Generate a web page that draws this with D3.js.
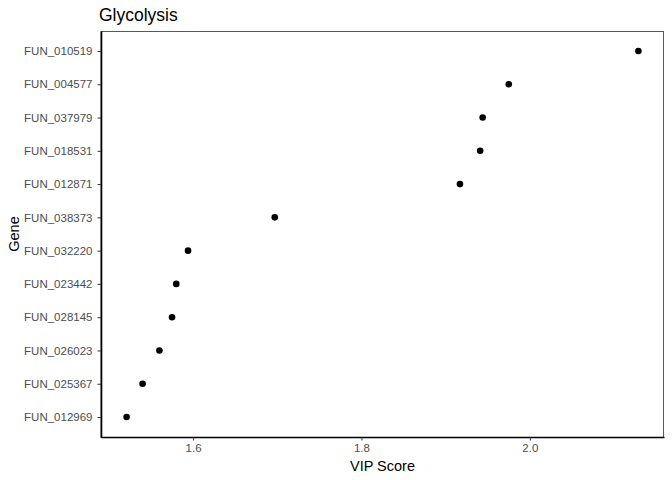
<!DOCTYPE html>
<html><head><meta charset="utf-8">
<script src="https://cdn.jsdelivr.net/npm/d3@7"></script>
<style>body{margin:0;background:#fff}</style>
</head><body>
<svg id="chart" width="672" height="480"></svg>
<script>
const genes = ["FUN_010519","FUN_004577","FUN_037979","FUN_018531","FUN_012871","FUN_038373","FUN_032220","FUN_023442","FUN_028145","FUN_026023","FUN_025367","FUN_012969"];
const vipScores = [2.129,1.975,1.944,1.941,1.917,1.697,1.594,1.580,1.575,1.560,1.540,1.521];
const xTicks = [1.6,1.8,2.0];

(function(){
const svg = d3.select("#chart");
const pL = 101, pR = 664, pT = 31, pB = 437;
const lo = d3.min(vipScores), hi = d3.max(vipScores), pad = (hi-lo)*0.05;
const x = d3.scaleLinear().domain([lo-pad, hi+pad]).range([pL, pR]);
const y = d3.scalePoint().domain(genes).range([pT, pB]).padding(0.6);

svg.append("rect").attr("x", pL).attr("y", pT+0.5).attr("width", pR-pL-0.5).attr("height", pB-pT)
  .attr("fill","none").attr("stroke","#595959").attr("stroke-width",1);

const xa = svg.append("g").attr("transform",`translate(0,${pB})`)
  .call(d3.axisBottom(x).tickValues(xTicks).tickFormat(d3.format(".1f")).tickSize(3.5).tickSizeOuter(0).tickPadding(3.5));
const ya = svg.append("g").attr("transform",`translate(${pL},0)`)
  .call(d3.axisLeft(y).tickSize(3.5).tickSizeOuter(0).tickPadding(5));
[xa,ya].forEach(a=>{
  a.select(".domain").attr("stroke","#000").attr("stroke-width",1.6);
  a.selectAll(".tick line").attr("stroke","#333").attr("stroke-width",1);
  a.selectAll(".tick text").attr("fill","#4d4d4d").style("font-family","Liberation Sans, Arial, sans-serif").style("font-size","11.5px");
});

svg.append("g").selectAll("circle").data(genes).join("circle")
  .attr("cx",(d,i)=>x(vipScores[i])).attr("cy",d=>y(d)).attr("r",3.3).attr("fill","#000");

svg.append("text").attr("x",pL-2).attr("y",21).text("Glycolysis")
  .style("font-family","Liberation Sans, Arial, sans-serif").style("font-size","17.5px").attr("fill","#000");
svg.append("text").attr("x",(pL+pR)/2).attr("y",471).attr("text-anchor","middle").text("VIP Score")
  .style("font-family","Liberation Sans, Arial, sans-serif").style("font-size","14.5px");
svg.append("text").attr("transform",`translate(19,${(pT+pB)/2}) rotate(-90)`).attr("text-anchor","middle").text("Gene")
  .style("font-family","Liberation Sans, Arial, sans-serif").style("font-size","14.5px");
})();
</script>
</body></html>
